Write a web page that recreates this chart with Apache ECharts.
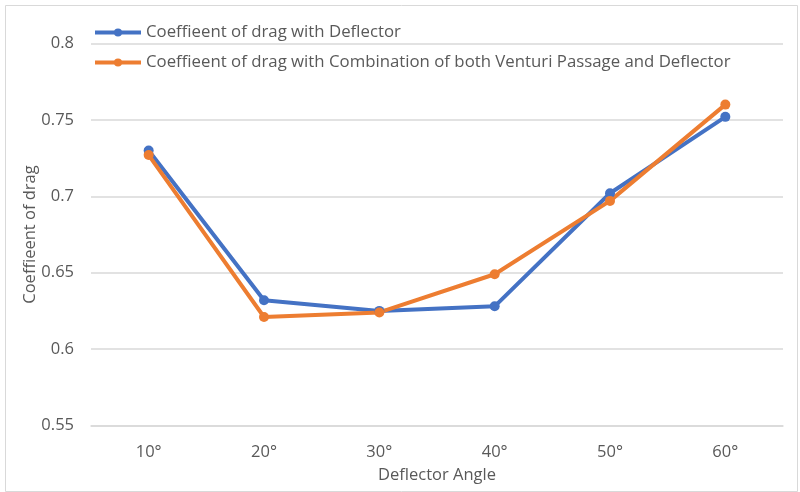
<!DOCTYPE html>
<html>
<head>
<meta charset="utf-8">
<script src="https://cdn.jsdelivr.net/npm/echarts@6/dist/echarts.min.js"></script>
<style>
html,body{margin:0;padding:0;background:#fff;}
#c{width:800px;height:492px;}
</style>
</head>
<body>
<div id="c"></div>
<script>
const categories = ['10°', '20°', '30°', '40°', '50°', '60°'];
const deflector = [0.730, 0.632, 0.625, 0.628, 0.702, 0.752];
const combination = [0.727, 0.621, 0.624, 0.649, 0.697, 0.760];
const seriesNames = ['Coeffieent of drag with Deflector', 'Coeffieent of drag with Combination of both Venturi Passage and Deflector'];
const yTicks = { min: 0.55, max: 0.8, interval: 0.05 };

const FONT = 'Open Sans';
const FS = 16.5;
const chart = echarts.init(document.getElementById('c'), null, { renderer: 'canvas' });
chart.setOption({
  backgroundColor: '#fff',
  animation: false,
  textStyle: { fontFamily: FONT },
  graphic: [{
    type: 'rect', left: 3, top: 3,
    shape: { width: 792, height: 486 },
    style: { fill: 'none', stroke: '#d9d9d9', lineWidth: 1 }
  }],
  legend: {
    orient: 'vertical', left: 88, top: 19,
    itemWidth: 46, itemHeight: 10, itemGap: 13,
    lineStyle: { width: 4 },
    textStyle: { fontSize: 16.8, color: '#595959', fontFamily: FONT },
    data: seriesNames
  },
  grid: { left: 91, right: 17, top: 43.5, bottom: 66.5 },
  xAxis: {
    type: 'category', data: categories, boundaryGap: true,
    name: 'Deflector Angle', nameLocation: 'middle', nameGap: 41,
    nameMoveOverlap: false,
    nameTextStyle: { fontSize: FS, color: '#595959' },
    axisLine: { show: true, lineStyle: { color: '#d9d9d9', width: 1.5 } },
    axisTick: { show: false },
    axisLabel: { fontSize: FS, color: '#595959', margin: 18 }
  },
  yAxis: {
    type: 'value', min: yTicks.min, max: yTicks.max, interval: yTicks.interval,
    name: 'Coeffieent of drag', nameLocation: 'middle', nameGap: 52,
    nameMoveOverlap: false,
    nameTextStyle: { fontSize: FS, color: '#595959' },
    axisLine: { show: false }, axisTick: { show: false },
    axisLabel: { fontSize: FS, color: '#595959', margin: 17,
      formatter: v => String(parseFloat(v.toFixed(2))) },
    splitLine: { lineStyle: { color: '#d9d9d9', width: 1.5 } }
  },
  series: [
    { name: seriesNames[0], type: 'line', data: deflector,
      symbol: 'circle', symbolSize: 10,
      lineStyle: { color: '#4472C4', width: 4 },
      itemStyle: { color: '#4472C4' } },
    { name: seriesNames[1], type: 'line', data: combination,
      symbol: 'circle', symbolSize: 10,
      lineStyle: { color: '#ED7D31', width: 4 },
      itemStyle: { color: '#ED7D31' } }
  ]
});
</script>
</body>
</html>
